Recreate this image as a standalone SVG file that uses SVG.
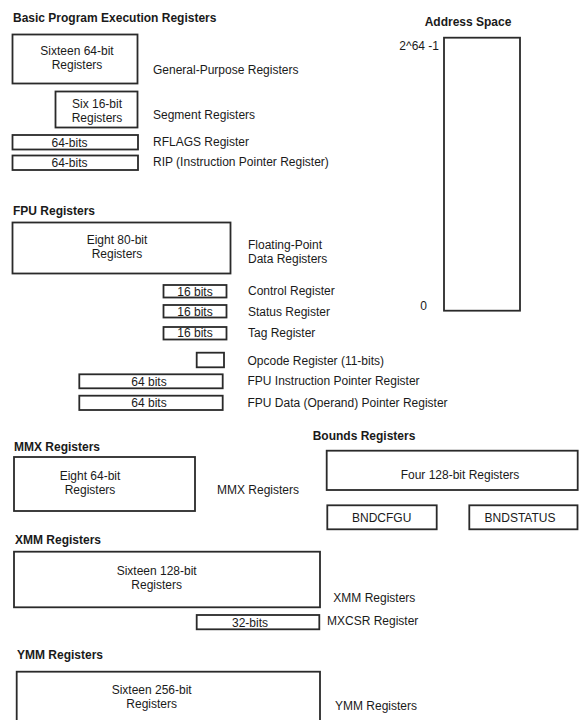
<svg xmlns="http://www.w3.org/2000/svg" width="579" height="720" viewBox="0 0 579 720">
<style>
  .box { fill: #ffffff; stroke: #2a2a2a; stroke-width: 1.8; }
  .t { font-family: "Liberation Sans", Arial, sans-serif; font-size: 12px; fill: #1a1a1a; }
  .c { text-anchor: middle; }
  .h { font-family: "Liberation Sans", Arial, sans-serif; font-size: 12px; font-weight: bold; fill: #1a1a1a; }
</style>
<rect width="579" height="720" fill="#ffffff"/>

<g id="basic-title"><text class="h" x="13" y="22">Basic Program Execution Registers</text></g>
<g id="gpr">
  <rect class="box" x="12.5" y="34.5" width="125" height="49"/>
  <text class="t c" x="77" y="55">Sixteen 64-bit</text>
  <text class="t c" x="77" y="69">Registers</text>
  <text class="t" x="153" y="74">General-Purpose Registers</text>
</g>
<g id="segment">
  <rect class="box" x="55.5" y="91.5" width="82" height="36"/>
  <text class="t c" x="97" y="108">Six 16-bit</text>
  <text class="t c" x="97" y="122">Registers</text>
  <text class="t" x="153" y="118.5">Segment Registers</text>
</g>
<g id="rflags">
  <rect class="box" x="12.5" y="135" width="125.5" height="14.5"/>
  <text class="t c" x="69.5" y="146.5">64-bits</text>
  <text class="t" x="153" y="146">RFLAGS Register</text>
</g>
<g id="rip">
  <rect class="box" x="12.5" y="155.5" width="125.5" height="14.5"/>
  <text class="t c" x="69.5" y="167">64-bits</text>
  <text class="t" x="153" y="166">RIP (Instruction Pointer Register)</text>
</g>

<g id="address-space">
  <text class="h c" x="468" y="25.5">Address Space</text>
  <rect class="box" x="444" y="37.7" width="76" height="273"/>
  <text class="t" x="439" y="50" text-anchor="end">2^64 -1</text>
  <text class="t c" x="423.5" y="310">0</text>
</g>

<g id="fpu-title"><text class="h" x="13" y="215">FPU Registers</text></g>
<g id="fpu-data">
  <rect class="box" x="12.5" y="222.5" width="218" height="51"/>
  <text class="t c" x="117" y="243.5">Eight 80-bit</text>
  <text class="t c" x="117" y="257.5">Registers</text>
  <text class="t" x="248" y="248.5">Floating-Point</text>
  <text class="t" x="248" y="262.5">Data Registers</text>
</g>
<g id="fpu-control">
  <rect class="box" x="163.5" y="285" width="63" height="12.5"/>
  <text class="t c" x="195" y="295.5">16 bits</text>
  <text class="t" x="248" y="295">Control Register</text>
</g>
<g id="fpu-status">
  <rect class="box" x="163.5" y="305" width="63" height="12.5"/>
  <text class="t c" x="195" y="315.5">16 bits</text>
  <text class="t" x="248" y="315.5">Status Register</text>
</g>
<g id="fpu-tag">
  <rect class="box" x="163.5" y="327" width="63" height="12.5"/>
  <text class="t c" x="195" y="337">16 bits</text>
  <text class="t" x="248" y="336.5">Tag Register</text>
</g>
<g id="fpu-opcode">
  <rect class="box" x="196.7" y="352.7" width="27.3" height="14.6"/>
  <text class="t" x="247.5" y="365">Opcode Register (11-bits)</text>
</g>
<g id="fpu-ip">
  <rect class="box" x="79.3" y="374.3" width="143.4" height="14"/>
  <text class="t c" x="149" y="385.5">64 bits</text>
  <text class="t" x="247.5" y="385">FPU Instruction Pointer Register</text>
</g>
<g id="fpu-dp">
  <rect class="box" x="79.3" y="395.7" width="143.4" height="14.3"/>
  <text class="t c" x="149" y="407">64 bits</text>
  <text class="t" x="247.5" y="407">FPU Data (Operand) Pointer Register</text>
</g>

<g id="mmx-title"><text class="h" x="14" y="451">MMX Registers</text></g>
<g id="mmx">
  <rect class="box" x="14" y="457" width="181" height="54"/>
  <text class="t c" x="90" y="479.5">Eight 64-bit</text>
  <text class="t c" x="90" y="493.5">Registers</text>
  <text class="t" x="217" y="493.5">MMX Registers</text>
</g>

<g id="bounds-title"><text class="h" x="312.7" y="440">Bounds Registers</text></g>
<g id="bounds">
  <rect class="box" x="326.7" y="450.7" width="251" height="39.3"/>
  <text class="t c" x="460" y="478.5">Four 128-bit Registers</text>
</g>
<g id="bndcfgu">
  <rect class="box" x="327.3" y="505.3" width="109.4" height="24"/>
  <text class="t c" x="381.7" y="521.5">BNDCFGU</text>
</g>
<g id="bndstatus">
  <rect class="box" x="469.3" y="505.3" width="108.2" height="24"/>
  <text class="t c" x="520" y="521.5">BNDSTATUS</text>
</g>

<g id="xmm-title"><text class="h" x="15" y="543.5">XMM Registers</text></g>
<g id="xmm">
  <rect class="box" x="14" y="551.7" width="306" height="55.6"/>
  <text class="t c" x="156.7" y="574.5">Sixteen 128-bit</text>
  <text class="t c" x="156.7" y="588.5">Registers</text>
  <text class="t" x="333.3" y="602">XMM Registers</text>
</g>
<g id="mxcsr">
  <rect class="box" x="196.7" y="615" width="122.6" height="14.3"/>
  <text class="t c" x="250" y="626.5">32-bits</text>
  <text class="t" x="327" y="625">MXCSR Register</text>
</g>

<g id="ymm-title"><text class="h" x="17" y="659">YMM Registers</text></g>
<g id="ymm">
  <rect class="box" x="16.7" y="671.7" width="303.3" height="60"/>
  <text class="t c" x="151.7" y="694">Sixteen 256-bit</text>
  <text class="t c" x="151.7" y="708">Registers</text>
  <text class="t" x="335" y="710">YMM Registers</text>
</g>
</svg>
